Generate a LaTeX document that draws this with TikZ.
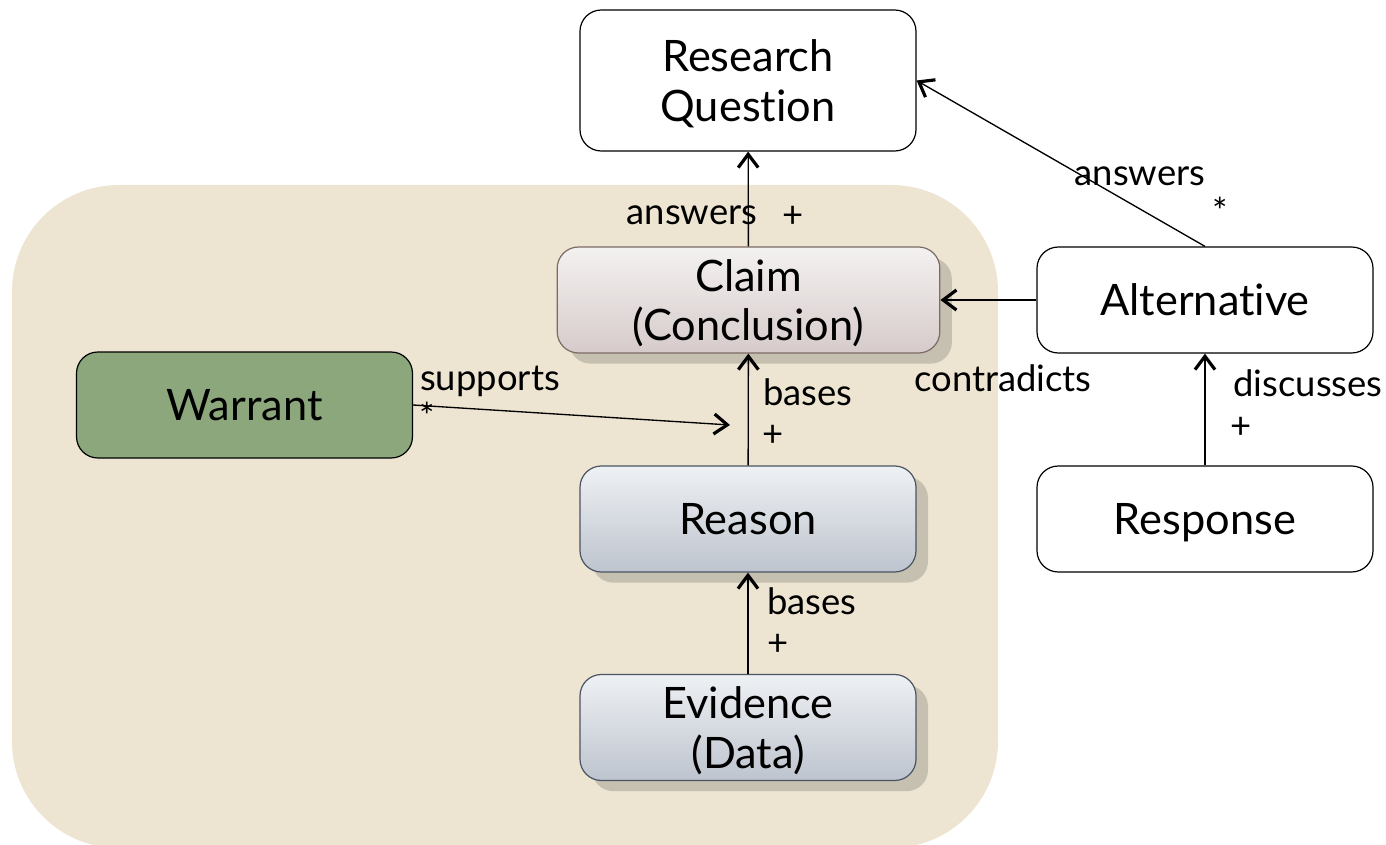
\documentclass[tikz,border=0pt]{standalone}
\usepackage{fontspec}
\setmainfont{Lato}[Ligatures=NoCommon]
\usetikzlibrary{arrows.meta,shadows}

\definecolor{bgbeige}{RGB}{237,229,209}
\definecolor{shadowgray}{RGB}{198,192,176}
\definecolor{warrantgreen}{RGB}{139,167,123}
\definecolor{claimtop}{RGB}{244,241,241}
\definecolor{claimbot}{RGB}{214,203,202}
\definecolor{claimline}{RGB}{125,107,102}
\definecolor{reasontop}{RGB}{238,241,244}
\definecolor{reasonbot}{RGB}{190,196,206}
\definecolor{reasonline}{RGB}{75,84,99}

\tikzset{every picture/.style={line width=0.75pt}}
\tikzset{
  box/.style={draw, rounded corners=16pt, minimum width=252pt, minimum height=79.5pt,
    inner sep=0pt, align=center, text depth=0pt, font=\fontsize{32.5}{37}\selectfont, line width=0.9pt},
  whitebox/.style={box, fill=white},
  claimbox/.style={box, draw=claimline, top color=claimtop, bottom color=claimbot,
    drop shadow={shadow xshift=9pt, shadow yshift=-8pt, fill=shadowgray, opacity=1}},
  reasonbox/.style={box, draw=reasonline, top color=reasontop, bottom color=reasonbot,
    drop shadow={shadow xshift=9pt, shadow yshift=-8pt, fill=shadowgray, opacity=1}},
  link/.style={line width=1pt, -{Straight Barb[length=10pt, width=15pt, line width=2.4pt]}},
  lbl/.style={font=\fontsize{27.3}{30}\selectfont, inner sep=0pt},
}

\begin{document}
\begin{tikzpicture}[x=0.75pt,y=0.75pt,yscale=-1,xscale=1]
  \useasboundingbox (0,0) rectangle (1386,845);
  %Shape: Rounded Rect [id:background]
  \fill[bgbeige, rounded corners=80pt] (12,185) rectangle (998,848);

  %Shape: Rectangle [id:rq]
  \node[whitebox, minimum height=105.75pt] (rq) at (748,80.5) {Research\\Question};
  %Shape: Rectangle [id:claim]
  \node[claimbox, minimum width=287pt] (claim) at (748.5,300) {Claim\\(Conclusion)};
  %Shape: Rectangle [id:alt]
  \node[whitebox] (alt) at (1205,300) {Alternative};
  %Shape: Rectangle [id:warrant]
  \node[box, fill=warrantgreen] (warrant) at (244.5,405) {Warrant};
  %Shape: Rectangle [id:reason]
  \node[reasonbox] (reason) at (748,519) {Reason};
  %Shape: Rectangle [id:resp]
  \node[whitebox] (resp) at (1205,519) {Response};
  %Shape: Rectangle [id:evid]
  \node[reasonbox] (evid) at (748,727.5) {Evidence\\(Data)};

  \coordinate (suptip) at (730,425);

  %Straight Lines
  \draw[link] (claim) -- (rq);
  \draw[link] (alt.north) -- (rq.east);
  \draw[link] (alt) -- (claim);
  \draw[link] (resp) -- (alt);
  \draw[link] (reason) -- (claim);
  \draw[link] (evid) -- (reason);
  \draw[link] (warrant.east) -- (suptip);

  % Text Node
  \node[lbl] (ansc) at (692,215) {answers};
  \node[lbl] (ansc+) at (793,217) {+};
  % Text Node
  \node[lbl] (ansa) at (1140,176) {answers};
  \node[lbl] (ansa*) at (1220,211) {*};
  % Text Node
  \node[lbl] (contra) at (1003,378) {contradicts};
  % Text Node
  \node[lbl] (disc) at (1308,383) {discusses};
  \node[lbl] (disc+) at (1241,428) {+};
  % Text Node
  \node[lbl] (basr) at (808,392) {bases};
  \node[lbl] (basr+) at (773,436) {+};
  % Text Node
  \node[lbl] (base) at (812,601) {bases};
  \node[lbl] (base+) at (778,645) {+};
  % Text Node
  \node[lbl] (supp) at (490,381) {supports};
  \node[lbl] (supp*) at (427,416) {*};

\end{tikzpicture}
\end{document}
